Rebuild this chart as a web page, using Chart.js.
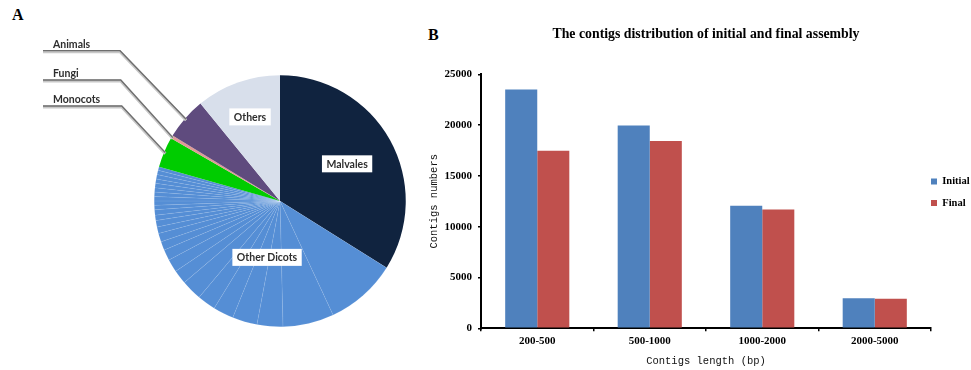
<!DOCTYPE html>
<html>
<head>
<meta charset="utf-8">
<script src="https://cdn.jsdelivr.net/npm/chart.js@4.4.1/dist/chart.umd.min.js"></script>
<style>
    body { margin: 0; background: #fff; width: 971px; height: 370px; position: relative; overflow: hidden; }
    .panel-tag { position: absolute; font: bold 16px "Liberation Serif", serif; color: #000; }
    #pie-box { position: absolute; left: 0; top: 0; width: 420px; height: 370px; }
    #bar-box { position: absolute; left: 420px; top: 0; width: 551px; height: 370px; }
</style>
</head>
<body>
<div class="panel-tag" style="left:12px; top:6px">A</div>
<div class="panel-tag" style="left:428px; top:26px">B</div>
<div id="pie-box"><canvas id="pie-chart" width="420" height="370"></canvas></div>
<div id="bar-box"><canvas id="bar-chart" width="551" height="370"></canvas></div>

<script>
// datos del grafico A (porcentaje de cada grupo)
const pieGroups = ['Malvales', 'Other Dicots', 'Monocots', 'Fungi', 'Animals', 'Others'];
const pieShares = [33.9, 45.5, 3.9, 0.4, 5.4, 10.9];
// Other Dicots esta partido en muchas porciones pequeñas
const dicotParts = [9.17, 6.56, 3.31, 3.19, 2.64, 2.36, 2.64, 1.81, 1.67, 1.39, 1.11, 1.11, 0.83, 0.83,
    0.69, 0.69, 0.56, 0.56, 0.56, 0.56, 0.56, 0.56, 0.56, 0.56, 0.56, 0.47];
const pieColors = ['#10233f', '#558ed5', '#00cc00', '#e09a96', '#5f4b7e', '#d8dfeb'];

// datos del grafico B
const lengthBins = ['200-500', '500-1000', '1000-2000', '2000-5000'];
const initialCounts = [23500, 19950, 12050, 2950];
const finalCounts = [17480, 18430, 11700, 2900];
const yMax = 25000;
const yStep = 5000;

const serif = '"Liberation Serif", "Times New Roman", serif';
const mono = '"Liberation Mono", "Courier New", monospace';

// label positions for the pie (layout only)
const pieCallouts = {
    Animals: { lineY: 50.7, x0: 43, x1: 120 },
    Fungi: { lineY: 80, x0: 43, x1: 120.7 },
    Monocots: { lineY: 106, x0: 43, x1: 121.7 }
};
const pieTags = {
    'Malvales': { r: 0.61, shift: 0 },
    'Other Dicots': { r: 0.46, shift: -11 },
    'Others': { r: 0.71, shift: 0 }
};

function makePieChart() {
    const labels = [];
    const values = [];
    const colors = [];
    const borders = [];
    pieGroups.forEach((name, i) => {
        if (name === 'Other Dicots') {
            dicotParts.forEach((v) => {
                labels.push(name);
                values.push(v);
                colors.push(pieColors[i]);
                borders.push(0.5);
            });
        } else {
            labels.push(name);
            values.push(pieShares[i]);
            colors.push(pieColors[i]);
            borders.push(0);
        }
    });

    const pieLabels = {
        id: 'pieLabels',
        afterDraw(chart) {
            const ctx = chart.ctx;
            const arcs = chart.getDatasetMeta(0).data;
            const spans = {};
            chart.data.labels.forEach((name, i) => {
                const a = arcs[i];
                if (!spans[name]) {
                    spans[name] = { start: a.startAngle, end: a.endAngle, x: a.x, y: a.y, r: a.outerRadius };
                } else {
                    spans[name].end = a.endAngle;
                }
            });
            ctx.save();
            ctx.font = 'bold 10.5px Lato, "Noto Sans", sans-serif';

            // leader lines
            Object.keys(pieCallouts).forEach((name) => {
                const c = pieCallouts[name];
                const s = spans[name];
                const mid = (s.start + s.end) / 2;
                const ex = s.x + Math.cos(mid) * s.r * 0.99;
                const ey = s.y + Math.sin(mid) * s.r * 0.99;
                [['#c8c8c8', 3, 1], ['#6e6e6e', 1.3, 0]].forEach(([col, w, dy]) => {
                    ctx.strokeStyle = col;
                    ctx.lineWidth = w;
                    ctx.beginPath();
                    ctx.moveTo(c.x0, c.lineY + dy);
                    ctx.lineTo(c.x1, c.lineY + dy);
                    ctx.lineTo(ex, ey + dy);
                    ctx.stroke();
                });
                ctx.fillStyle = '#2e2e2e';
                ctx.textAlign = 'left';
                ctx.textBaseline = 'alphabetic';
                ctx.fillText(name, c.x0 + 10, c.lineY - 3);
            });

            // white boxes inside the pie
            Object.keys(pieTags).forEach((name) => {
                const t = pieTags[name];
                const s = spans[name];
                const mid = (s.start + s.end) / 2 + t.shift * Math.PI / 180;
                const tx = s.x + Math.cos(mid) * s.r * t.r;
                const ty = s.y + Math.sin(mid) * s.r * t.r;
                const w = ctx.measureText(name).width + 9;
                ctx.fillStyle = '#fff';
                ctx.fillRect(tx - w / 2, ty - 8.5, w, 17);
                ctx.fillStyle = '#2e2e2e';
                ctx.textAlign = 'center';
                ctx.textBaseline = 'middle';
                ctx.fillText(name, tx, ty + 0.5);
            });
            ctx.restore();
        }
    };

    const ctx = document.getElementById('pie-chart').getContext('2d');
    new Chart(ctx, {
        type: 'pie',
        data: {
            labels: labels,
            datasets: [{
                data: values,
                backgroundColor: colors,
                borderColor: 'rgba(255, 255, 255, 0.14)',
                borderWidth: borders
            }]
        },
        options: {
            responsive: false,
            animation: false,
            events: [],
            layout: { padding: { left: 154, top: 75, right: 14, bottom: 43 } },
            plugins: { legend: { display: false }, tooltip: { enabled: false } }
        },
        plugins: [pieLabels]
    });
}

function makeBarChart() {
    // mover la leyenda pegada al final del eje x
    const legendNudge = {
        id: 'legendNudge',
        afterLayout(chart) {
            const lg = chart.legend;
            lg.left -= 11;
            lg.top -= 9;
            lg.bottom -= 9;
        }
    };

    const axisGrid = {
        display: true,
        drawOnChartArea: false,
        drawTicks: true,
        tickLength: 3,
        color: '#000',
        lineWidth: 1.5
    };

    const ctx = document.getElementById('bar-chart').getContext('2d');
    new Chart(ctx, {
        type: 'bar',
        data: {
            labels: lengthBins,
            datasets: [
                { label: 'Initial', data: initialCounts, backgroundColor: '#4f81bd' },
                { label: 'Final', data: finalCounts, backgroundColor: '#c0504d' }
            ]
        },
        options: {
            responsive: false,
            animation: false,
            events: [],
            categoryPercentage: 0.57,
            barPercentage: 1.0,
            plugins: {
                title: {
                    display: true,
                    fullSize: false,
                    text: 'The contigs distribution of initial and final assembly',
                    color: '#000',
                    font: { family: serif, size: 13.8, weight: 'bold' },
                    padding: { top: 26.5, bottom: 31.2 }
                },
                legend: {
                    position: 'right',
                    fullSize: false,
                    maxWidth: 40,
                    labels: {
                        boxWidth: 6,
                        boxHeight: 6,
                        padding: 11,
                        color: '#000',
                        font: { family: serif, size: 10.5, weight: 'bold' }
                    }
                },
                tooltip: { enabled: false }
            },
            scales: {
                x: {
                    grid: Object.assign({ offset: true }, axisGrid),
                    border: { color: '#000', width: 2 },
                    ticks: { color: '#000', padding: 3, font: { family: serif, size: 11, weight: 'bold' } },
                    title: {
                        display: true,
                        text: 'Contigs length (bp)',
                        color: '#111',
                        font: { family: mono, size: 10.5 },
                        padding: { top: 0, bottom: 2 }
                    },
                    afterFit: (scale) => { scale.height = 41.7; }
                },
                y: {
                    min: 0,
                    max: yMax,
                    grid: axisGrid,
                    border: { color: '#000', width: 2 },
                    ticks: {
                        stepSize: yStep,
                        color: '#000',
                        padding: 6,
                        font: { family: serif, size: 11, weight: 'bold' },
                        callback: (v) => String(v)
                    },
                    title: {
                        display: true,
                        text: 'Contigs numbers',
                        color: '#111',
                        font: { family: mono, size: 10.5 },
                        padding: { top: 8, bottom: 0 }
                    },
                    afterFit: (scale) => { scale.width = 61; }
                }
            }
        },
        plugins: [legendNudge]
    });
}

makePieChart();
makeBarChart();
</script>
</body>
</html>
